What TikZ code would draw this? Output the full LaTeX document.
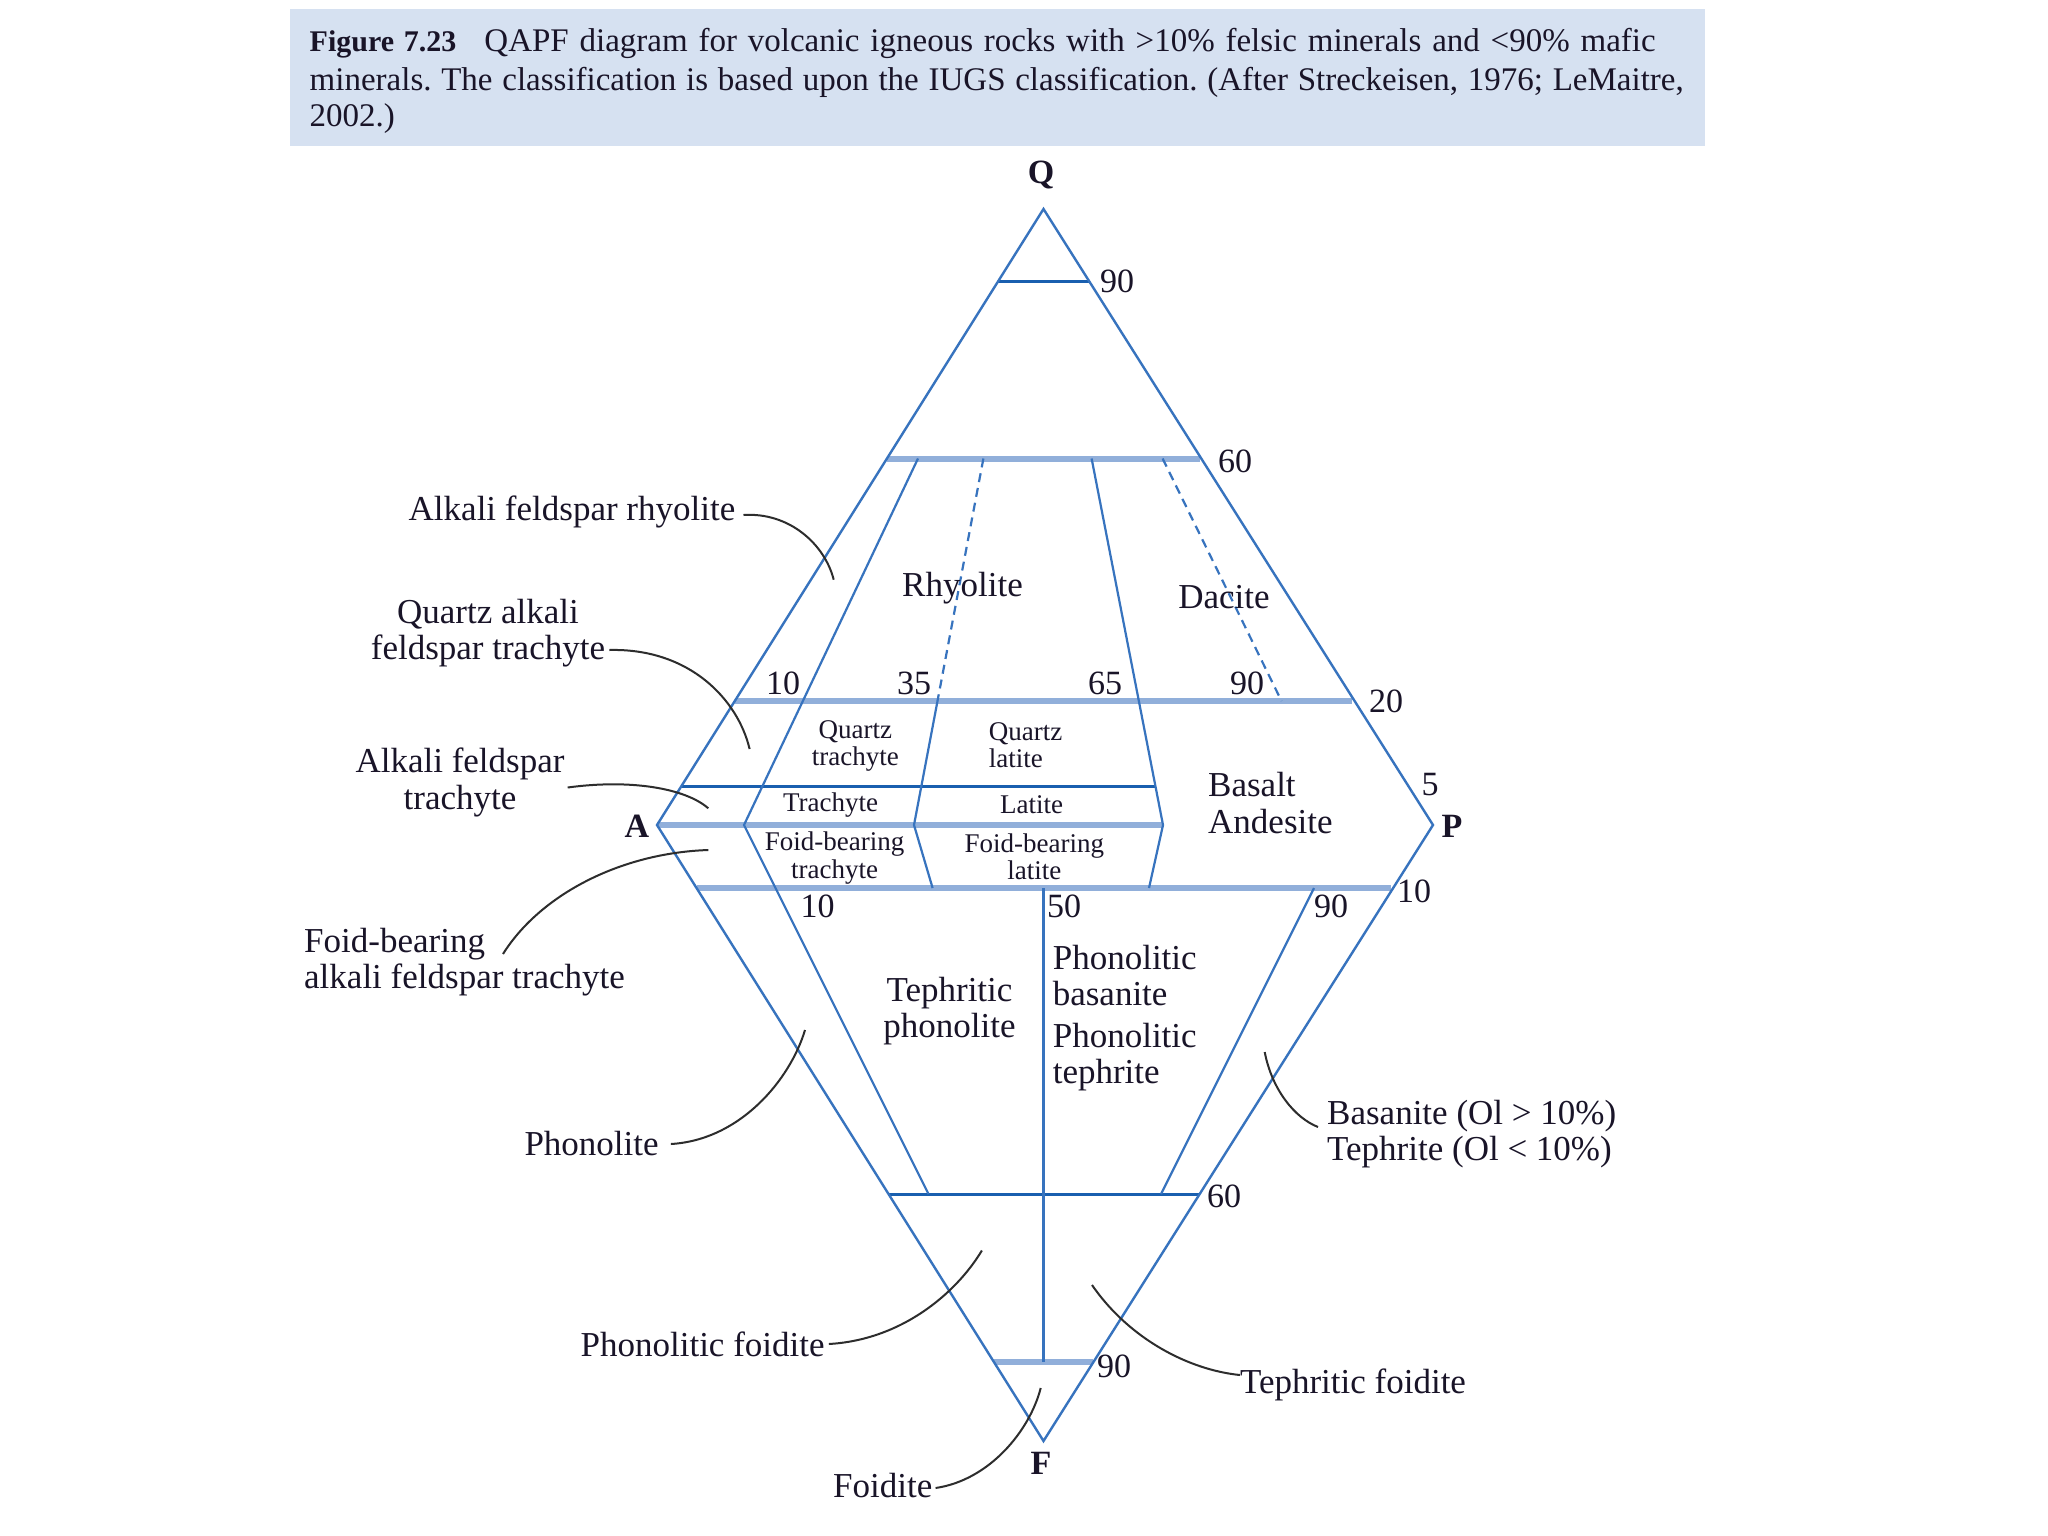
\documentclass[tikz,border=0pt]{standalone}
\usepackage{fontspec}
\setmainfont{Liberation Serif}
\definecolor{edgeblue}{RGB}{55,115,190}
\definecolor{lightblue}{RGB}{145,175,218}
\definecolor{darkblue}{RGB}{25,95,175}
\definecolor{capbg}{RGB}{214,225,241}
\definecolor{leadc}{RGB}{45,45,45}
\definecolor{txt}{RGB}{25,20,40}
\begin{document}
\frenchspacing
\begin{tikzpicture}[x=1pt,y=-1pt,
  edgeln/.style={draw=edgeblue,line width=2.4pt},
  thickln/.style={draw=lightblue,line width=6pt},
  thinln/.style={draw=darkblue,line width=3pt},
  innerln/.style={draw=edgeblue,line width=2.2pt},
  dashln/.style={draw=edgeblue,line width=2.2pt,dash pattern=on 9pt off 6pt},
  leader/.style={draw=leadc,line width=2pt},
  lab/.style={font=\fontsize{35}{36.6}\selectfont,inner sep=0pt,text=txt},
  slab/.style={font=\fontsize{27}{27.5}\selectfont,inner sep=0pt,text=txt},
  num/.style={font=\fontsize{34}{36}\selectfont,inner sep=0pt,text=txt},
  apex/.style={font=\fontsize{34}{36}\selectfont\bfseries,inner sep=0pt,text=txt},
  captxt/.style={font=\fontsize{33}{38}\selectfont,inner sep=0pt,anchor=base west,text=txt}
]
\useasboundingbox (0,0) rectangle (2048,1536);
\fill[white] (0,0) rectangle (2048,1536);
% caption
\fill[capbg] (290,9) rectangle (1705,146);
\node[captxt] (cap1) at (309.5,52) {\makebox[1346pt][s]{{\fontsize{30}{38}\selectfont\textbf{Figure 7.23}}\hspace{28pt}QAPF diagram for volcanic igneous rocks with >10\% felsic minerals and <90\% mafic}};
\node[captxt] (cap2) at (309.5,91) {\makebox[1374pt][s]{minerals. The classification is based upon the IUGS classification. (After Streckeisen, 1976; LeMaitre,}};
\node[captxt] (cap3) at (309.5,127) {2002.)};

% apexes
\coordinate (Q) at (1043.5,209);
\coordinate (A) at (657,825);
\coordinate (P) at (1433,825);
\coordinate (F) at (1043.5,1441);

% thick light horizontals
\draw[thickln] (887,458.5) -- (1200,458.5);
\draw[thickln] (734.8,701) -- (1352.2,701);
\draw[thickln] (A) -- (1163,825);
\draw[thickln] (696.5,888) -- (1390.5,888);
\draw[thickln] (994,1362) -- (1093,1362);
% thin dark horizontals
\draw[thinln] (998.3,281) -- (1088.7,281);
\draw[thinln] (681.5,786) -- (1155.4,786);
\draw[thinln] (888.5,1194) -- (1198.5,1194);
% outline
\draw[edgeln,line join=miter] (A) -- (Q) -- (P) -- (F) -- cycle;
% inner division lines
\draw[innerln] (918,458.5) -- (744,825) -- (928.5,1194);
\draw[dashln] (983.4,458.5) -- (937.5,701);
\draw[innerln] (937.5,701) -- (914,825) -- (932.6,888);
\draw[innerln] (1091.6,458.5) -- (1163,825) -- (1149,888);
\draw[dashln] (1162.6,458.5) -- (1281.5,701);
\draw[innerln] (1043.5,888) -- (1043.5,1362);
\draw[innerln] (1314,888) -- (1161,1194);

% apex labels
\node[apex] (lQ) at (1041,175) {Q};
\node[apex] (lA) at (637,826) {A};
\node[apex] (lP) at (1452,826) {P};
\node[apex] (lF) at (1041,1463) {F};

% numbers
\node[num] (n1) at (1117,281) {90};
\node[num] (n2) at (1235,461) {60};
\node[num] (n3) at (783,683) {10};
\node[num] (n4) at (914,683) {35};
\node[num] (n5) at (1105,683) {65};
\node[num] (n6) at (1247,683) {90};
\node[num] (n7) at (1386,701) {20};
\node[num] (n8) at (1430,785) {5};
\node[num] (n9) at (1414,891) {10};
\node[num] (n10) at (817.6,906) {10};
\node[num] (n11) at (1064,906) {50};
\node[num] (n12) at (1331,906) {90};
\node[num] (n13) at (1224,1196) {60};
\node[num] (n14) at (1114,1366) {90};

% region labels
\node[lab] (rhy) at (962.5,588) {Rhyolite};
\node[lab] (dac) at (1224,597) {Dacite};
\node[slab,align=center] (qtr) at (855.4,746) {Quartz\\trachyte};
\node[slab,align=left,anchor=west] (qla) at (988.6,745) {Quartz\\latite};
\node[slab] (tra) at (830.6,805.5) {Trachyte};
\node[slab] (lat) at (1031.7,804.5) {Latite};
\node[slab,align=center] (fbt) at (834.5,858) {Foid-bearing\\trachyte};
\node[slab,align=center] (fbl) at (1034.4,856.7) {Foid-bearing\\latite};
\node[lab,align=left,anchor=west] (ba) at (1208,803) {Basalt\\Andesite};
\node[lab,align=center] (tph) at (949.5,1011) {Tephritic\\phonolite};
\node[lab,align=left,anchor=west] (pbt) at (1052.6,1018) {Phonolitic\\basanite\\[5pt]Phonolitic\\tephrite};

% outer labels
\node[lab] (afr) at (572,512) {Alkali feldspar rhyolite};
\node[lab,align=center] (qaft) at (488,633) {Quartz alkali\\feldspar trachyte};
\node[lab,align=center] (aft) at (460,782.5) {Alkali feldspar\\trachyte};
\node[lab,align=left,anchor=west] (fbaft) at (304,962) {Foid-bearing\\alkali feldspar trachyte};
\node[lab] (pho) at (591.6,1144) {Phonolite};
\node[lab] (pfo) at (702.6,1344) {Phonolitic foidite};
\node[lab] (foi) at (882.8,1486) {Foidite};
\node[lab] (tfo) at (1353,1385) {Tephritic foidite};
\node[lab,align=left,anchor=west] (bas) at (1327,1134) {Basanite (Ol > 10\%)\\Tephrite (Ol < 10\%)};

% leader targets
\coordinate (tAFR) at (833.7,579.7);
\coordinate (tQAFT) at (749.6,749);
\coordinate (tAFT) at (708.3,808.3);
\coordinate (tFBAFT) at (708.3,850);
\coordinate (tPHO) at (805,1030);
\coordinate (tBAS) at (1264.7,1052);
\coordinate (tPFO) at (981.9,1250.5);
\coordinate (tTFO) at (1092,1285);
\coordinate (tFOI) at (1040.7,1388);

% leaders
\draw[leader] ([xshift=8pt,yshift=-3pt]afr.east) .. controls (790,512) and (825,545) .. (tAFR);
\draw[leader] ([xshift=4pt,yshift=-17pt]qaft.east) .. controls (690,648) and (738,700) .. (tQAFT);
\draw[leader] ([xshift=3pt,yshift=-5pt]aft.east) .. controls (630,779) and (685,788) .. (tAFT);
\draw[leader] ([xshift=199pt,yshift=8pt]fbaft.west) .. controls (540,895) and (620,853) .. (tFBAFT);
\draw[leader] ([xshift=12pt]pho.east) .. controls (740,1140) and (790,1080) .. (tPHO);
\draw[leader] ([xshift=-9pt,yshift=7pt]bas.west) .. controls (1295,1118) and (1272,1090) .. (tBAS);
\draw[leader] ([xshift=4pt]pfo.east) .. controls (900,1340) and (955,1295) .. (tPFO);
\draw[leader] ([yshift=10pt]tfo.west) .. controls (1190,1370) and (1130,1340) .. (tTFO);
\draw[leader] ([xshift=3pt,yshift=-2pt]foi.east) .. controls (990,1480) and (1030,1430) .. (tFOI);
\end{tikzpicture}
\end{document}
